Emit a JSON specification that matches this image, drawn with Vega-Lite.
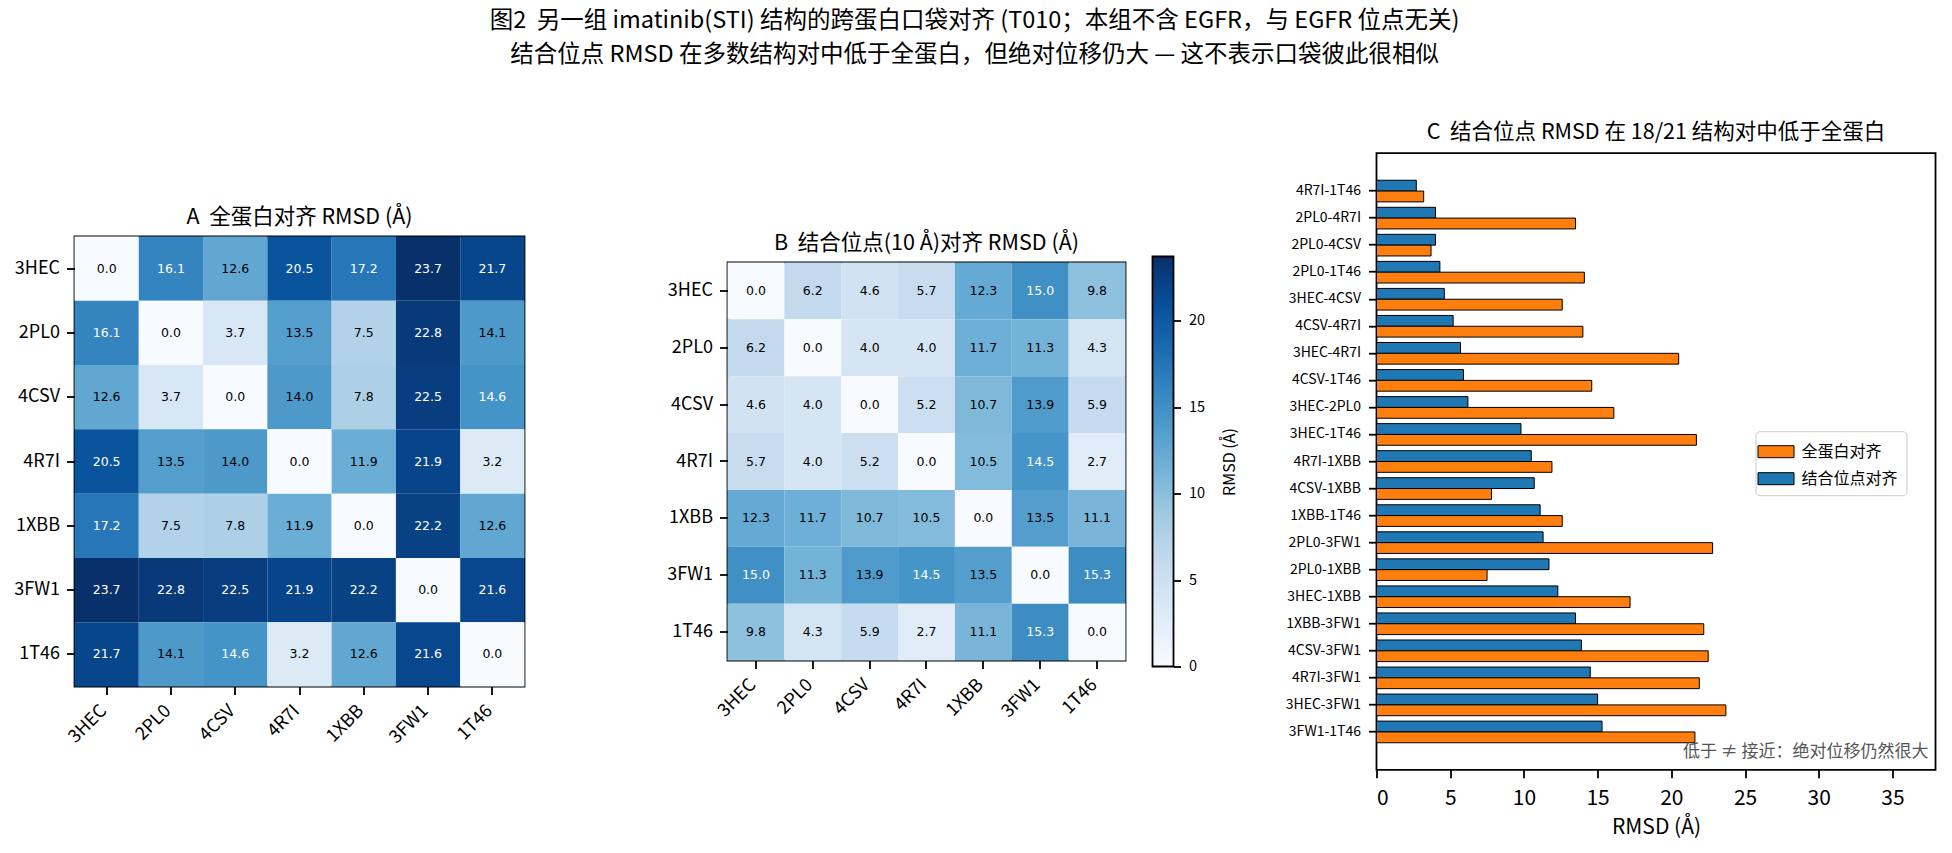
{
  "$schema": "https://vega.github.io/schema/vega-lite/v6.json",
  "background": "white",
  "autosize": {"type": "pad"},
  "padding": {"left": 12.5, "top": 9, "right": 5, "bottom": 5},
  "title": {
    "text": ["图2 \u00a0另一组 imatinib(STI) 结构的跨蛋白口袋对齐 (T010；本组不含 EGFR，与 EGFR 位点无关)", "结合位点 RMSD 在多数结构对中低于全蛋白，但绝对位移仍大 — 这不表示口袋彼此很相似"],
    "anchor": "middle",
    "frame": "bounds",
    "fontSize": 23.5,
    "lineHeight": 34.2,
    "offset": 54,
    "fontWeight": "normal",
    "color": "black"
  },
  "config": {
    "font": "Noto Sans CJK SC",
    "view": {"stroke": "black", "strokeWidth": 1.8},
    "axis": {
      "labelFont": "Noto Sans CJK SC",
      "titleFont": "Noto Sans CJK SC",
      "labelColor": "black",
      "titleColor": "black",
      "tickColor": "black",
      "tickWidth": 1.8,
      "tickSize": 8,
      "grid": false,
      "domain": false,
      "titleFontWeight": "normal"
    },
    "title": {"font": "Noto Sans CJK SC", "fontWeight": "normal", "color": "black"},
    "legend": {"labelFont": "Noto Sans CJK SC", "labelColor": "black"}
  },
  "datasets": {
    "full": [
      {"row": "3HEC", "col": "3HEC", "value": 0.0}, {"row": "3HEC", "col": "2PL0", "value": 16.1}, {"row": "3HEC", "col": "4CSV", "value": 12.6}, {"row": "3HEC", "col": "4R7I", "value": 20.5}, {"row": "3HEC", "col": "1XBB", "value": 17.2}, {"row": "3HEC", "col": "3FW1", "value": 23.7}, {"row": "3HEC", "col": "1T46", "value": 21.7},
      {"row": "2PL0", "col": "3HEC", "value": 16.1}, {"row": "2PL0", "col": "2PL0", "value": 0.0}, {"row": "2PL0", "col": "4CSV", "value": 3.7}, {"row": "2PL0", "col": "4R7I", "value": 13.5}, {"row": "2PL0", "col": "1XBB", "value": 7.5}, {"row": "2PL0", "col": "3FW1", "value": 22.8}, {"row": "2PL0", "col": "1T46", "value": 14.1},
      {"row": "4CSV", "col": "3HEC", "value": 12.6}, {"row": "4CSV", "col": "2PL0", "value": 3.7}, {"row": "4CSV", "col": "4CSV", "value": 0.0}, {"row": "4CSV", "col": "4R7I", "value": 14.0}, {"row": "4CSV", "col": "1XBB", "value": 7.8}, {"row": "4CSV", "col": "3FW1", "value": 22.5}, {"row": "4CSV", "col": "1T46", "value": 14.6},
      {"row": "4R7I", "col": "3HEC", "value": 20.5}, {"row": "4R7I", "col": "2PL0", "value": 13.5}, {"row": "4R7I", "col": "4CSV", "value": 14.0}, {"row": "4R7I", "col": "4R7I", "value": 0.0}, {"row": "4R7I", "col": "1XBB", "value": 11.9}, {"row": "4R7I", "col": "3FW1", "value": 21.9}, {"row": "4R7I", "col": "1T46", "value": 3.2},
      {"row": "1XBB", "col": "3HEC", "value": 17.2}, {"row": "1XBB", "col": "2PL0", "value": 7.5}, {"row": "1XBB", "col": "4CSV", "value": 7.8}, {"row": "1XBB", "col": "4R7I", "value": 11.9}, {"row": "1XBB", "col": "1XBB", "value": 0.0}, {"row": "1XBB", "col": "3FW1", "value": 22.2}, {"row": "1XBB", "col": "1T46", "value": 12.6},
      {"row": "3FW1", "col": "3HEC", "value": 23.7}, {"row": "3FW1", "col": "2PL0", "value": 22.8}, {"row": "3FW1", "col": "4CSV", "value": 22.5}, {"row": "3FW1", "col": "4R7I", "value": 21.9}, {"row": "3FW1", "col": "1XBB", "value": 22.2}, {"row": "3FW1", "col": "3FW1", "value": 0.0}, {"row": "3FW1", "col": "1T46", "value": 21.6},
      {"row": "1T46", "col": "3HEC", "value": 21.7}, {"row": "1T46", "col": "2PL0", "value": 14.1}, {"row": "1T46", "col": "4CSV", "value": 14.6}, {"row": "1T46", "col": "4R7I", "value": 3.2}, {"row": "1T46", "col": "1XBB", "value": 12.6}, {"row": "1T46", "col": "3FW1", "value": 21.6}, {"row": "1T46", "col": "1T46", "value": 0.0}
    ],
    "bind": [
      {"row": "3HEC", "col": "3HEC", "value": 0.0}, {"row": "3HEC", "col": "2PL0", "value": 6.2}, {"row": "3HEC", "col": "4CSV", "value": 4.6}, {"row": "3HEC", "col": "4R7I", "value": 5.7}, {"row": "3HEC", "col": "1XBB", "value": 12.3}, {"row": "3HEC", "col": "3FW1", "value": 15.0}, {"row": "3HEC", "col": "1T46", "value": 9.8},
      {"row": "2PL0", "col": "3HEC", "value": 6.2}, {"row": "2PL0", "col": "2PL0", "value": 0.0}, {"row": "2PL0", "col": "4CSV", "value": 4.0}, {"row": "2PL0", "col": "4R7I", "value": 4.0}, {"row": "2PL0", "col": "1XBB", "value": 11.7}, {"row": "2PL0", "col": "3FW1", "value": 11.3}, {"row": "2PL0", "col": "1T46", "value": 4.3},
      {"row": "4CSV", "col": "3HEC", "value": 4.6}, {"row": "4CSV", "col": "2PL0", "value": 4.0}, {"row": "4CSV", "col": "4CSV", "value": 0.0}, {"row": "4CSV", "col": "4R7I", "value": 5.2}, {"row": "4CSV", "col": "1XBB", "value": 10.7}, {"row": "4CSV", "col": "3FW1", "value": 13.9}, {"row": "4CSV", "col": "1T46", "value": 5.9},
      {"row": "4R7I", "col": "3HEC", "value": 5.7}, {"row": "4R7I", "col": "2PL0", "value": 4.0}, {"row": "4R7I", "col": "4CSV", "value": 5.2}, {"row": "4R7I", "col": "4R7I", "value": 0.0}, {"row": "4R7I", "col": "1XBB", "value": 10.5}, {"row": "4R7I", "col": "3FW1", "value": 14.5}, {"row": "4R7I", "col": "1T46", "value": 2.7},
      {"row": "1XBB", "col": "3HEC", "value": 12.3}, {"row": "1XBB", "col": "2PL0", "value": 11.7}, {"row": "1XBB", "col": "4CSV", "value": 10.7}, {"row": "1XBB", "col": "4R7I", "value": 10.5}, {"row": "1XBB", "col": "1XBB", "value": 0.0}, {"row": "1XBB", "col": "3FW1", "value": 13.5}, {"row": "1XBB", "col": "1T46", "value": 11.1},
      {"row": "3FW1", "col": "3HEC", "value": 15.0}, {"row": "3FW1", "col": "2PL0", "value": 11.3}, {"row": "3FW1", "col": "4CSV", "value": 13.9}, {"row": "3FW1", "col": "4R7I", "value": 14.5}, {"row": "3FW1", "col": "1XBB", "value": 13.5}, {"row": "3FW1", "col": "3FW1", "value": 0.0}, {"row": "3FW1", "col": "1T46", "value": 15.3},
      {"row": "1T46", "col": "3HEC", "value": 9.8}, {"row": "1T46", "col": "2PL0", "value": 4.3}, {"row": "1T46", "col": "4CSV", "value": 5.9}, {"row": "1T46", "col": "4R7I", "value": 2.7}, {"row": "1T46", "col": "1XBB", "value": 11.1}, {"row": "1T46", "col": "3FW1", "value": 15.3}, {"row": "1T46", "col": "1T46", "value": 0.0}
    ],
    "pairs": [
      {"pair": "4R7I-1T46", "series": "结合位点对齐", "rmsd": 2.7}, {"pair": "4R7I-1T46", "series": "全蛋白对齐", "rmsd": 3.2},
      {"pair": "2PL0-4R7I", "series": "结合位点对齐", "rmsd": 4.0}, {"pair": "2PL0-4R7I", "series": "全蛋白对齐", "rmsd": 13.5},
      {"pair": "2PL0-4CSV", "series": "结合位点对齐", "rmsd": 4.0}, {"pair": "2PL0-4CSV", "series": "全蛋白对齐", "rmsd": 3.7},
      {"pair": "2PL0-1T46", "series": "结合位点对齐", "rmsd": 4.3}, {"pair": "2PL0-1T46", "series": "全蛋白对齐", "rmsd": 14.1},
      {"pair": "3HEC-4CSV", "series": "结合位点对齐", "rmsd": 4.6}, {"pair": "3HEC-4CSV", "series": "全蛋白对齐", "rmsd": 12.6},
      {"pair": "4CSV-4R7I", "series": "结合位点对齐", "rmsd": 5.2}, {"pair": "4CSV-4R7I", "series": "全蛋白对齐", "rmsd": 14.0},
      {"pair": "3HEC-4R7I", "series": "结合位点对齐", "rmsd": 5.7}, {"pair": "3HEC-4R7I", "series": "全蛋白对齐", "rmsd": 20.5},
      {"pair": "4CSV-1T46", "series": "结合位点对齐", "rmsd": 5.9}, {"pair": "4CSV-1T46", "series": "全蛋白对齐", "rmsd": 14.6},
      {"pair": "3HEC-2PL0", "series": "结合位点对齐", "rmsd": 6.2}, {"pair": "3HEC-2PL0", "series": "全蛋白对齐", "rmsd": 16.1},
      {"pair": "3HEC-1T46", "series": "结合位点对齐", "rmsd": 9.8}, {"pair": "3HEC-1T46", "series": "全蛋白对齐", "rmsd": 21.7},
      {"pair": "4R7I-1XBB", "series": "结合位点对齐", "rmsd": 10.5}, {"pair": "4R7I-1XBB", "series": "全蛋白对齐", "rmsd": 11.9},
      {"pair": "4CSV-1XBB", "series": "结合位点对齐", "rmsd": 10.7}, {"pair": "4CSV-1XBB", "series": "全蛋白对齐", "rmsd": 7.8},
      {"pair": "1XBB-1T46", "series": "结合位点对齐", "rmsd": 11.1}, {"pair": "1XBB-1T46", "series": "全蛋白对齐", "rmsd": 12.6},
      {"pair": "2PL0-3FW1", "series": "结合位点对齐", "rmsd": 11.3}, {"pair": "2PL0-3FW1", "series": "全蛋白对齐", "rmsd": 22.8},
      {"pair": "2PL0-1XBB", "series": "结合位点对齐", "rmsd": 11.7}, {"pair": "2PL0-1XBB", "series": "全蛋白对齐", "rmsd": 7.5},
      {"pair": "3HEC-1XBB", "series": "结合位点对齐", "rmsd": 12.3}, {"pair": "3HEC-1XBB", "series": "全蛋白对齐", "rmsd": 17.2},
      {"pair": "1XBB-3FW1", "series": "结合位点对齐", "rmsd": 13.5}, {"pair": "1XBB-3FW1", "series": "全蛋白对齐", "rmsd": 22.2},
      {"pair": "4CSV-3FW1", "series": "结合位点对齐", "rmsd": 13.9}, {"pair": "4CSV-3FW1", "series": "全蛋白对齐", "rmsd": 22.5},
      {"pair": "4R7I-3FW1", "series": "结合位点对齐", "rmsd": 14.5}, {"pair": "4R7I-3FW1", "series": "全蛋白对齐", "rmsd": 21.9},
      {"pair": "3HEC-3FW1", "series": "结合位点对齐", "rmsd": 15.0}, {"pair": "3HEC-3FW1", "series": "全蛋白对齐", "rmsd": 23.7},
      {"pair": "3FW1-1T46", "series": "结合位点对齐", "rmsd": 15.3}, {"pair": "3FW1-1T46", "series": "全蛋白对齐", "rmsd": 21.6}
    ]
  },
  "resolve": {"scale": {"color": "independent", "x": "independent", "y": "independent"}},
  "bounds": "flush",
  "center": true,
  "spacing": 27,
  "hconcat": [
    {
      "width": 450,
      "height": 450,
      "title": {"text": "A \u00a0全蛋白对齐 RMSD (Å)", "fontSize": 21.5, "offset": 8},
      "data": {"name": "full"},
      "encoding": {
        "x": {"field": "col", "type": "nominal", "sort": ["3HEC", "2PL0", "4CSV", "4R7I", "1XBB", "3FW1", "1T46"], "scale": {"paddingInner": 0, "paddingOuter": 0},
              "axis": {"title": null, "labelAngle": -45, "labelAlign": "right", "labelBaseline": "top", "labelOffset": -9, "labelFontSize": 18, "labelPadding": 7}},
        "y": {"field": "row", "type": "nominal", "sort": ["3HEC", "2PL0", "4CSV", "4R7I", "1XBB", "3FW1", "1T46"], "scale": {"paddingInner": 0, "paddingOuter": 0},
              "axis": {"title": null, "labelFontSize": 18, "labelPadding": 7}}
      },
      "layer": [
        {"mark": {"type": "rect"},
         "encoding": {"color": {"field": "value", "type": "quantitative", "legend": null,
           "scale": {"type": "linear", "domain": [0, 2.9625, 5.925, 8.8875, 11.85, 14.8125, 17.775, 20.7375, 23.7], "range": ["#f7fbff", "#deebf7", "#c6dbef", "#9ecae1", "#6baed6", "#4292c6", "#2171b5", "#08519c", "#08306b"], "interpolate": "rgb"}}}},
        {"mark": {"type": "text", "fontSize": 12.5, "font": "DejaVu Sans"},
         "encoding": {"text": {"field": "value", "type": "quantitative", "format": ".1f"},
           "color": {"condition": {"test": "datum.value > 14.22", "value": "white"}, "value": "black"}}}
      ]
    },
    {
      "width": 149,
      "height": 10,
      "view": {"stroke": null},
      "data": {"values": []},
      "mark": "point",
      "encoding": {}
    },
    {
      "width": 398,
      "height": 398,
      "title": {"text": "B \u00a0结合位点(10 Å)对齐 RMSD (Å)", "fontSize": 21.5, "offset": 8},
      "data": {"name": "bind"},
      "encoding": {
        "x": {"field": "col", "type": "nominal", "sort": ["3HEC", "2PL0", "4CSV", "4R7I", "1XBB", "3FW1", "1T46"], "scale": {"paddingInner": 0, "paddingOuter": 0},
              "axis": {"title": null, "labelAngle": -45, "labelAlign": "right", "labelBaseline": "top", "labelOffset": -9, "labelFontSize": 18, "labelPadding": 7}},
        "y": {"field": "row", "type": "nominal", "sort": ["3HEC", "2PL0", "4CSV", "4R7I", "1XBB", "3FW1", "1T46"], "scale": {"paddingInner": 0, "paddingOuter": 0},
              "axis": {"title": null, "labelFontSize": 18, "labelPadding": 7}}
      },
      "layer": [
        {"mark": {"type": "rect"},
         "encoding": {"color": {"field": "value", "type": "quantitative", "legend": null,
           "scale": {"type": "linear", "domain": [0, 2.9625, 5.925, 8.8875, 11.85, 14.8125, 17.775, 20.7375, 23.7], "range": ["#f7fbff", "#deebf7", "#c6dbef", "#9ecae1", "#6baed6", "#4292c6", "#2171b5", "#08519c", "#08306b"], "interpolate": "rgb"}}}},
        {"mark": {"type": "text", "fontSize": 12.5, "font": "DejaVu Sans"},
         "encoding": {"text": {"field": "value", "type": "quantitative", "format": ".1f"},
           "color": {"condition": {"test": "datum.value > 14.22", "value": "white"}, "value": "black"}}}
      ]
    },
    {
      "width": 21,
      "height": 410,
      "view": {"stroke": null},
      "data": {"values": [{"lo": 0, "hi": 23.7}]},
      "mark": {"type": "rect", "stroke": "black", "strokeWidth": 1.8,
        "fill": {"gradient": "linear", "x1": 0, "y1": 1, "x2": 0, "y2": 0,
          "stops": [{"offset": 0, "color": "#f7fbff"}, {"offset": 0.125, "color": "#deebf7"}, {"offset": 0.25, "color": "#c6dbef"}, {"offset": 0.375, "color": "#9ecae1"}, {"offset": 0.5, "color": "#6baed6"}, {"offset": 0.625, "color": "#4292c6"}, {"offset": 0.75, "color": "#2171b5"}, {"offset": 0.875, "color": "#08519c"}, {"offset": 1, "color": "#08306b"}]}},
      "encoding": {
        "x": {"datum": 0, "type": "quantitative", "scale": {"domain": [0, 1]}, "axis": null},
        "x2": {"datum": 1},
        "y": {"field": "lo", "type": "quantitative", "scale": {"domain": [0, 23.7], "nice": false, "zero": false},
              "axis": {"orient": "right", "values": [0, 5, 10, 15, 20], "title": "RMSD (Å)", "titleAngle": 270, "titleBaseline": "top", "titleFontSize": 16, "titlePadding": 17, "labelFontSize": 14.5, "tickSize": 7, "labelPadding": 8}},
        "y2": {"field": "hi"}
      }
    },
    {
      "width": 149,
      "height": 10,
      "view": {"stroke": null},
      "data": {"values": []},
      "mark": "point",
      "encoding": {}
    },
    {
      "width": 559,
      "height": 616.6,
      "title": {"text": "C \u00a0结合位点 RMSD 在 18/21 结构对中低于全蛋白", "fontSize": 21.5, "offset": 10},
      "data": {"name": "pairs"},
      "layer": [
        {
          "mark": {"type": "bar", "stroke": "black", "strokeWidth": 1},
          "encoding": {
            "y": {"field": "pair", "type": "nominal",
                  "sort": ["4R7I-1T46", "2PL0-4R7I", "2PL0-4CSV", "2PL0-1T46", "3HEC-4CSV", "4CSV-4R7I", "3HEC-4R7I", "4CSV-1T46", "3HEC-2PL0", "3HEC-1T46", "4R7I-1XBB", "4CSV-1XBB", "1XBB-1T46", "2PL0-3FW1", "2PL0-1XBB", "3HEC-1XBB", "1XBB-3FW1", "4CSV-3FW1", "4R7I-3FW1", "3HEC-3FW1", "3FW1-1T46"],
                  "scale": {"paddingInner": 0.2, "paddingOuter": 1.04},
                  "axis": {"title": null, "labelFontSize": 14, "labelPadding": 8}},
            "yOffset": {"field": "series", "type": "nominal", "sort": ["结合位点对齐", "全蛋白对齐"], "scale": {"paddingInner": 0, "paddingOuter": 0}},
            "x": {"field": "rmsd", "type": "quantitative", "scale": {"domain": [0, 37.92], "nice": false, "zero": true},
                  "axis": {"values": [0, 5, 10, 15, 20, 25, 30, 35], "title": "RMSD (Å)", "titleFontSize": 21, "titlePadding": 8, "labelFontSize": 21, "labelPadding": 10}},
            "color": {"field": "series", "type": "nominal",
                      "scale": {"domain": ["全蛋白对齐", "结合位点对齐"], "range": ["#ff7f0e", "#1f77b4"]},
                      "legend": {"title": null, "orient": "none", "legendX": 379, "legendY": 278,
                                 "symbolType": "M-1.5,-0.5L1.5,-0.5L1.5,0.5L-1.5,0.5Z", "symbolSize": 576,
                                 "symbolStrokeColor": "black", "symbolStrokeWidth": 1,
                                 "labelFontSize": 16, "labelOffset": 13, "rowPadding": 6, "padding": 8,
                                 "fillColor": "white", "strokeColor": "#cccccc", "cornerRadius": 4}}
          }
        },
        {
          "data": {"values": [{"note": "低于 ≠ 接近：绝对位移仍然很大"}]},
          "mark": {"type": "text", "align": "right", "baseline": "alphabetic", "fontSize": 17, "color": "#555555", "dy": 25},
          "encoding": {
            "text": {"field": "note", "type": "nominal"},
            "x": {"datum": 37.45, "type": "quantitative"},
            "y": {"datum": "3FW1-1T46", "type": "nominal"}
          }
        }
      ]
    }
  ]
}
